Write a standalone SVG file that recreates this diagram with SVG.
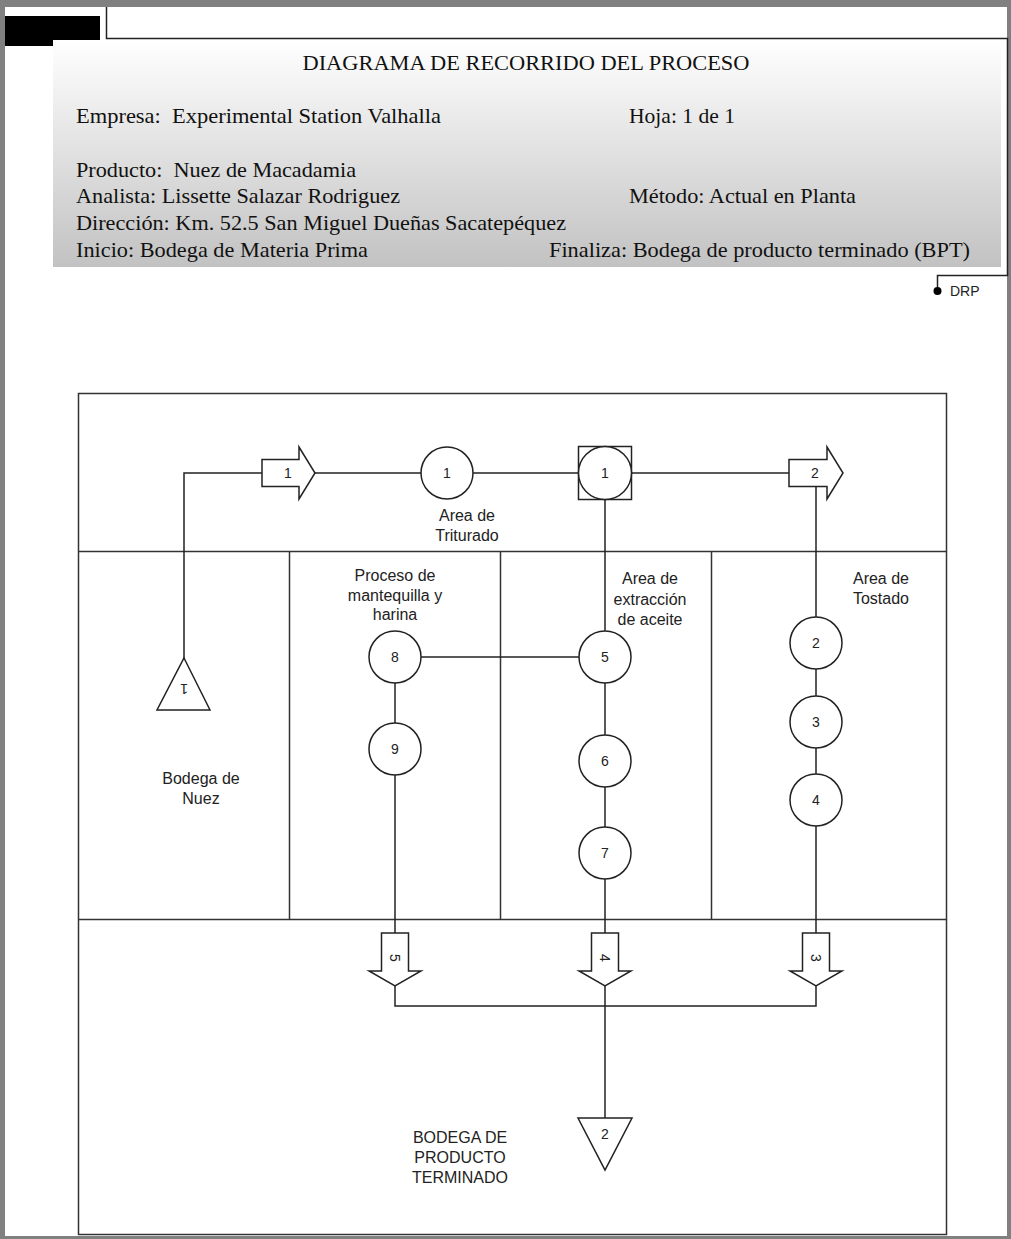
<svg xmlns="http://www.w3.org/2000/svg" width="1011" height="1239" viewBox="0 0 1011 1239">
<defs>
<linearGradient id="hdr" x1="0" y1="0" x2="0" y2="1">
<stop offset="0" stop-color="#ffffff"/>
<stop offset="1" stop-color="#c2c2c2"/>
</linearGradient>
</defs>
<style>
.hd{font-family:"Liberation Serif","Times New Roman",serif;font-size:21px;fill:#111}
.lb{font-family:"Liberation Sans",Arial,sans-serif;font-size:16px;fill:#222;text-anchor:middle}
.nm{font-family:"Liberation Sans",Arial,sans-serif;font-size:14px;fill:#222;text-anchor:middle;dominant-baseline:central}
.sh{fill:#fff;stroke:#222;stroke-width:1.5}
.ln{fill:none;stroke:#222;stroke-width:1.5}
.fr{fill:none;stroke:#333;stroke-width:1.5}
</style>
<rect x="0" y="0" width="1011" height="1239" fill="#808080"/>
<rect x="5" y="7" width="1002" height="1229" fill="#ffffff"/>
<rect x="5" y="16" width="95" height="30" fill="#000"/>
<path class="ln" d="M106.5 7 V38.5 H1007.5 V275.5 H937.5 V291"/>
<circle cx="937.5" cy="291" r="4" fill="#000"/>
<text x="950" y="296" font-family="Liberation Sans, Arial, sans-serif" font-size="14" fill="#222">DRP</text>
<g id="header">
<rect x="53" y="40" width="948" height="227" fill="url(#hdr)"/>
<text class="hd" x="526" y="70" text-anchor="middle" textLength="447" lengthAdjust="spacingAndGlyphs">DIAGRAMA DE RECORRIDO DEL PROCESO</text>
<text class="hd" x="76" y="123" textLength="365" lengthAdjust="spacingAndGlyphs" xml:space="preserve">Empresa:  Experimental Station Valhalla</text>
<text class="hd" x="629" y="123" textLength="106" lengthAdjust="spacingAndGlyphs">Hoja: 1 de 1</text>
<text class="hd" x="76" y="177" textLength="280" lengthAdjust="spacingAndGlyphs" xml:space="preserve">Producto:  Nuez de Macadamia</text>
<text class="hd" x="76" y="203" textLength="324" lengthAdjust="spacingAndGlyphs">Analista: Lissette Salazar Rodriguez</text>
<text class="hd" x="629" y="203" textLength="227" lengthAdjust="spacingAndGlyphs">Método: Actual en Planta</text>
<text class="hd" x="76" y="230" textLength="490" lengthAdjust="spacingAndGlyphs">Dirección: Km. 52.5 San Miguel Dueñas Sacatepéquez</text>
<text class="hd" x="76" y="257" textLength="292" lengthAdjust="spacingAndGlyphs">Inicio: Bodega de Materia Prima</text>
<text class="hd" x="549" y="257" textLength="421" lengthAdjust="spacingAndGlyphs">Finaliza: Bodega de producto terminado (BPT)</text>
</g>
<g id="frame">
<rect class="fr" x="78.5" y="393.5" width="868" height="841"/>
<path class="fr" d="M78.5 551.5 H946.5 M78.5 919.5 H946.5 M289.5 551.5 V919.5 M500.5 551.5 V919.5 M711.5 551.5 V919.5"/>
</g>
<g id="labels">
<text class="lb" x="467" y="521">Area de</text>
<text class="lb" x="467" y="541">Triturado</text>
<text class="lb" x="395" y="581">Proceso de</text>
<text class="lb" x="395" y="601">mantequilla y</text>
<text class="lb" x="395" y="620">harina</text>
<text class="lb" x="650" y="584">Area de</text>
<text class="lb" x="650" y="605">extracción</text>
<text class="lb" x="650" y="625">de aceite</text>
<text class="lb" x="881" y="584">Area de</text>
<text class="lb" x="881" y="604">Tostado</text>
<text class="lb" x="201" y="784">Bodega de</text>
<text class="lb" x="201" y="804">Nuez</text>
<text class="lb" x="460" y="1143">BODEGA DE</text>
<text class="lb" x="460" y="1163">PRODUCTO</text>
<text class="lb" x="460" y="1183">TERMINADO</text>
</g>
<g id="connectors">
<path class="ln" d="M184 658 V473 H262"/>
<path class="ln" d="M315 473 H421"/>
<path class="ln" d="M473 473 H578"/>
<path class="ln" d="M632 473 H789"/>
<path class="ln" d="M816 486 V617"/>
<path class="ln" d="M605 500 V631"/>
<path class="ln" d="M421 657 H579"/>
<path class="ln" d="M395 683 V723"/>
<path class="ln" d="M395 775 V933"/>
<path class="ln" d="M605 683 V735"/>
<path class="ln" d="M605 787 V827"/>
<path class="ln" d="M605 879 V933"/>
<path class="ln" d="M816 669 V696"/>
<path class="ln" d="M816 748 V774"/>
<path class="ln" d="M816 826 V933"/>
<path class="ln" d="M395 986 V1006 H816 V986"/>
<path class="ln" d="M605 986 V1118"/>
</g>
<g id="almacen1">
<polygon class="sh" points="184,658 210,710 157,710"/>
<text class="nm" x="184" y="689" transform="rotate(180 184 689)">1</text>
</g>
<g id="transporte1">
<polygon class="sh" points="262,459.5 299,459.5 299,447 315,473 299,499 299,486.5 262,486.5"/>
<text class="nm" x="288" y="473">1</text>
</g>
<g id="operacion1">
<circle class="sh" cx="447" cy="473" r="26"/>
<text class="nm" x="447" y="473">1</text>
</g>
<g id="combinada1">
<rect class="sh" x="578.5" y="446.5" width="53" height="53"/>
<circle class="sh" cx="605" cy="473" r="26.5"/>
<text class="nm" x="605" y="473">1</text>
</g>
<g id="transporte2">
<polygon class="sh" points="789,459.5 827,459.5 827,447 843,473 827,499 827,486.5 789,486.5"/>
<text class="nm" x="815" y="473">2</text>
</g>
<g id="operacion2">
<circle class="sh" cx="816" cy="643" r="26"/>
<text class="nm" x="816" y="643">2</text>
</g>
<g id="operacion3">
<circle class="sh" cx="816" cy="722" r="26"/>
<text class="nm" x="816" y="722">3</text>
</g>
<g id="operacion4">
<circle class="sh" cx="816" cy="800" r="26"/>
<text class="nm" x="816" y="800">4</text>
</g>
<g id="operacion5">
<circle class="sh" cx="605" cy="657" r="26"/>
<text class="nm" x="605" y="657">5</text>
</g>
<g id="operacion6">
<circle class="sh" cx="605" cy="761" r="26"/>
<text class="nm" x="605" y="761">6</text>
</g>
<g id="operacion7">
<circle class="sh" cx="605" cy="853" r="26"/>
<text class="nm" x="605" y="853">7</text>
</g>
<g id="operacion8">
<circle class="sh" cx="395" cy="657" r="26"/>
<text class="nm" x="395" y="657">8</text>
</g>
<g id="operacion9">
<circle class="sh" cx="395" cy="749" r="26"/>
<text class="nm" x="395" y="749">9</text>
</g>
<g id="transporte5">
<polygon class="sh" points="381.5,933 408.5,933 408.5,971 421,971 395,986 369,971 381.5,971"/>
<text class="nm" x="395" y="958" transform="rotate(90 395 958)">5</text>
</g>
<g id="transporte4">
<polygon class="sh" points="591.5,933 618.5,933 618.5,971 631,971 605,986 579,971 591.5,971"/>
<text class="nm" x="605" y="958" transform="rotate(90 605 958)">4</text>
</g>
<g id="transporte3">
<polygon class="sh" points="802.5,933 829.5,933 829.5,971 842,971 816,986 790,971 802.5,971"/>
<text class="nm" x="816" y="958" transform="rotate(90 816 958)">3</text>
</g>
<g id="almacen2">
<polygon class="sh" points="578,1118 632,1118 605,1170"/>
<text class="nm" x="605" y="1134">2</text>
</g>
</svg>
